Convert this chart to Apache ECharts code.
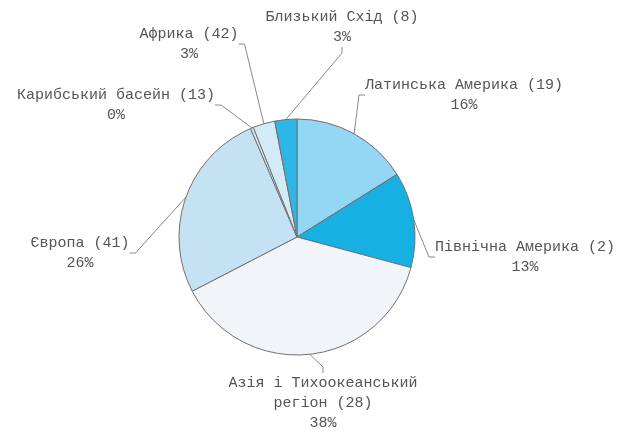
<!DOCTYPE html>
<html>
<head>
<meta charset="utf-8">
<script src="https://cdn.jsdelivr.net/npm/echarts@6/dist/echarts.min.js"></script>
<style>html,body{margin:0;padding:0;background:#fff;}#c{width:618px;height:434px;}</style>
</head>
<body>
<div id="c"></div>
<script>
// Data (clockwise from 12 o'clock)
var regions = ['Латинська Америка', 'Північна Америка', 'Азія і Тихоокеанський\nрегіон', 'Європа', 'Карибський басейн', 'Африка', 'Близький Схід'];
var ranks = [19, 2, 28, 41, 13, 42, 8];
var percents = [16, 13, 38, 26, 0.4, 3, 3];
var percentLabels = ['16%', '13%', '38%', '26%', '0%', '3%', '3%'];

var colors = ['#93d7f4', '#17b0e2', '#f1f5fa', '#c4e2f3', '#d6edf8', '#d3ebf7', '#2db7e6'];
// label centre positions (layout only)
var labelPos = [[464, 95], [525, 257], [323, 403], [80, 253], [116, 105], [189, 44], [342, 27]];

var data = regions.map(function (n, i) {
  return { name: n, value: percents[i], itemStyle: { color: colors[i] } };
});

var chart = echarts.init(document.getElementById('c'), null, { renderer: 'canvas' });
chart.setOption({
  animation: false,
  series: [{
    type: 'pie',
    center: [297, 237],
    radius: 118,
    startAngle: 90,
    clockwise: true,
    minAngle: 0,
    avoidLabelOverlap: false,
    data: data,
    itemStyle: { borderColor: '#6f6f6f', borderWidth: 1 },
    label: {
      show: true,
      position: 'outside',
      fontFamily: 'Liberation Mono',
      fontSize: 15,
      color: '#555',
      lineHeight: 20,
      align: 'center',
      formatter: function (p) {
        var i = p.dataIndex;
        return regions[i] + ' (' + ranks[i] + ')\n' + percentLabels[i];
      }
    },
    labelLine: { show: true, length: 10, length2: 6, lineStyle: { color: '#888', width: 1 } },
    labelLayout: function (p) {
      var pos = labelPos[p.dataIndex];
      return { x: pos[0], y: pos[1], align: 'center', verticalAlign: 'middle' };
    }
  }]
});
</script>
</body>
</html>
